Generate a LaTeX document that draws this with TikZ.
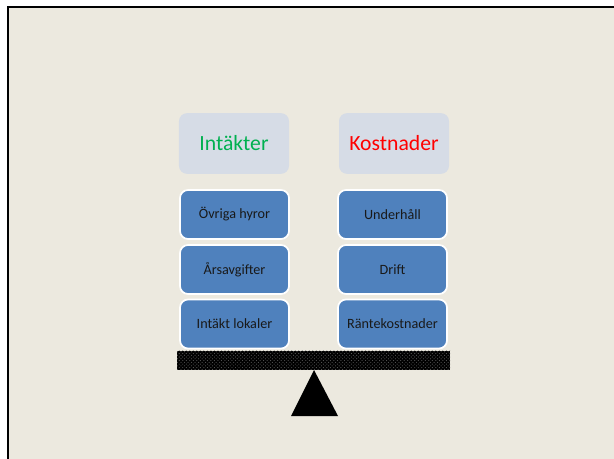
\documentclass[tikz,border=0pt]{standalone}
\usepackage{fontspec}
\setmainfont{Carlito}
\usetikzlibrary{patterns}
\definecolor{slidebg}{HTML}{ECE9DF}
\definecolor{headbg}{HTML}{D6DCE6}
\definecolor{boxblue}{HTML}{4F81BD}
\definecolor{incgreen}{HTML}{00B050}
\definecolor{costred}{HTML}{FF0000}
\begin{document}
\begin{tikzpicture}[x=0.03cm, y=-0.03cm,
    head/.style={rounded corners=0.24cm, fill=headbg, minimum width=3.3cm, minimum height=1.82cm, font=\fontsize{18.5}{22}\selectfont},
    item/.style={rounded corners=0.24cm, fill=boxblue, draw=white, line width=1.5pt, minimum width=3.27cm, minimum height=1.47cm, text=black!90, font=\fontsize{12.1}{14}\selectfont}]
\useasboundingbox (0,0) rectangle (614,459);
\fill[white] (0,0) rectangle (614,459);
\draw[fill=slidebg, line width=1.7pt] (8,7) rectangle (640,480);

\node[head, text=incgreen] (inc) at (234,143.5) {Intäkter};
\node[head, text=costred] (cost) at (394,143.5) {Kostnader};

\node[item] (ovriga) at (234.5,214.5) {Övriga hyror};
\node[item] (arsavg) at (234.5,269.5) {Årsavgifter};
\node[item] (lokaler) at (234.5,324) {Intäkt lokaler};
\node[item] (underh) at (392.5,214.5) {Underhåll};
\node[item] (drift) at (392.5,269.5) {Drift};
\node[item] (ranta) at (392.5,324) {Räntekostnader};

\fill[black] (177,351) rectangle (450,370);
\fill[pattern=crosshatch dots, pattern color=black!65] (177,351) rectangle (450,370);
\fill (314,370) -- (338,416) -- (291,416) -- cycle;
\end{tikzpicture}
\end{document}
